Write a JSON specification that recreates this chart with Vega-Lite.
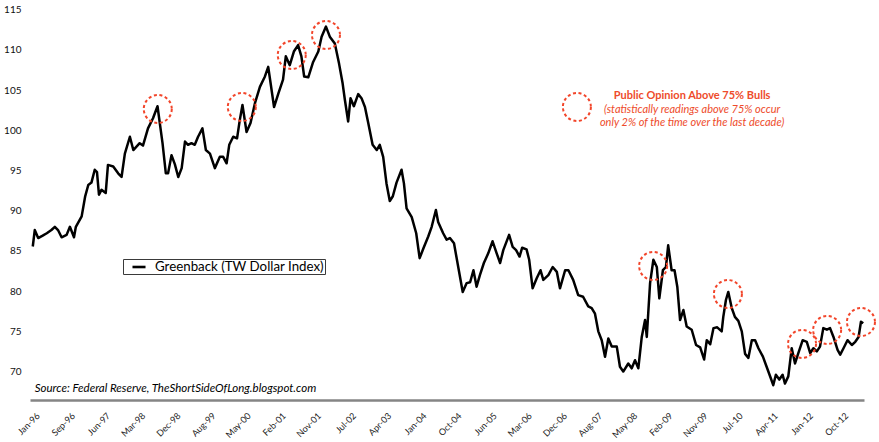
{
  "$schema": "https://vega.github.io/schema/vega-lite/v6.json",
  "width": 834,
  "height": 400,
  "autosize": {"type": "none"},
  "padding": {"left": 30, "top": 0, "right": 15, "bottom": 42},
  "background": "white",
  "config": {"view": {"stroke": null}, "font": "Lato", "axis": {"labelOverlap": false}},
  "datasets": {
    "dollar": [
      {"date":"1996-01-03","value":85.55},{"date":"1996-01-18","value":87.6},{"date":"1996-02-13","value":86.6},{"date":"1996-03-18","value":86.9},{"date":"1996-04-18","value":87.2},{"date":"1996-05-23","value":87.6},{"date":"1996-06-18","value":88.0},{"date":"1996-07-12","value":87.6},{"date":"1996-08-08","value":86.7},{"date":"1996-09-15","value":87.0},{"date":"1996-10-10","value":88.0},{"date":"1996-11-10","value":86.7},{"date":"1996-11-24","value":88.0},
      {"date":"1997-01-07","value":89.3},{"date":"1997-02-02","value":91.75},{"date":"1997-02-26","value":93.2},{"date":"1997-03-22","value":93.5},{"date":"1997-04-16","value":95.1},{"date":"1997-05-03","value":94.8},{"date":"1997-05-18","value":92.0},{"date":"1997-06-06","value":92.6},{"date":"1997-07-08","value":92.2},{"date":"1997-07-25","value":95.7},{"date":"1997-09-03","value":95.5},{"date":"1997-10-10","value":94.65},{"date":"1997-11-05","value":94.2},{"date":"1997-11-30","value":97.1},
      {"date":"1998-01-07","value":99.2},{"date":"1998-02-02","value":97.55},{"date":"1998-03-22","value":98.4},{"date":"1998-04-16","value":98.1},{"date":"1998-05-24","value":100.25},{"date":"1998-07-01","value":101.5},{"date":"1998-08-04","value":103.0},{"date":"1998-09-11","value":98.4},{"date":"1998-10-06","value":94.65},{"date":"1998-10-23","value":94.65},{"date":"1998-11-18","value":96.9},{"date":"1998-12-13","value":95.8},
      {"date":"1999-01-08","value":94.2},{"date":"1999-02-03","value":95.3},{"date":"1999-02-28","value":98.6},{"date":"1999-03-23","value":98.2},{"date":"1999-04-18","value":98.4},{"date":"1999-05-13","value":98.2},{"date":"1999-06-07","value":99.2},{"date":"1999-07-10","value":100.25},{"date":"1999-08-05","value":97.55},{"date":"1999-09-05","value":97.1},{"date":"1999-10-12","value":95.3},{"date":"1999-11-19","value":96.7},{"date":"1999-12-14","value":96.7},
      {"date":"2000-01-09","value":95.9},{"date":"2000-01-29","value":98.2},{"date":"2000-02-28","value":99.2},{"date":"2000-03-28","value":99.0},{"date":"2000-04-18","value":101.3},{"date":"2000-05-08","value":103.15},{"date":"2000-06-08","value":99.8},{"date":"2000-07-08","value":100.9},{"date":"2000-08-10","value":103.35},{"date":"2000-09-17","value":105.4},{"date":"2000-10-25","value":106.7},{"date":"2000-11-19","value":107.9},{"date":"2000-12-07","value":105.85},
      {"date":"2001-01-02","value":102.9},{"date":"2001-02-04","value":104.6},{"date":"2001-03-11","value":106.3},{"date":"2001-04-01","value":109.2},{"date":"2001-05-01","value":108.1},{"date":"2001-06-01","value":109.8},{"date":"2001-07-03","value":110.6},{"date":"2001-07-28","value":109.2},{"date":"2001-08-18","value":106.7},{"date":"2001-09-18","value":106.6},{"date":"2001-10-25","value":108.5},{"date":"2001-12-03","value":109.8},{"date":"2001-12-28","value":111.65},
      {"date":"2002-01-30","value":112.9},{"date":"2002-02-28","value":111.65},{"date":"2002-04-07","value":110.8},{"date":"2002-05-09","value":108.3},{"date":"2002-06-05","value":105.85},{"date":"2002-06-22","value":103.8},{"date":"2002-07-17","value":101.1},{"date":"2002-08-04","value":104.0},{"date":"2002-08-29","value":103.0},{"date":"2002-10-01","value":104.5},{"date":"2002-10-26","value":104.0},{"date":"2002-11-21","value":102.9},{"date":"2002-12-16","value":100.9},
      {"date":"2003-01-18","value":98.2},{"date":"2003-02-18","value":97.55},{"date":"2003-03-13","value":98.2},{"date":"2003-04-08","value":96.7},{"date":"2003-05-03","value":93.4},{"date":"2003-05-28","value":91.2},{"date":"2003-06-20","value":91.8},{"date":"2003-07-18","value":93.5},{"date":"2003-08-25","value":95.1},{"date":"2003-09-12","value":93.4},{"date":"2003-10-02","value":90.3},{"date":"2003-11-10","value":89.2},{"date":"2003-12-14","value":87.2},
      {"date":"2004-01-09","value":84.1},{"date":"2004-02-06","value":85.3},{"date":"2004-03-14","value":86.8},{"date":"2004-04-09","value":88.0},{"date":"2004-05-11","value":90.1},{"date":"2004-05-28","value":88.6},{"date":"2004-07-05","value":87.2},{"date":"2004-07-31","value":86.4},{"date":"2004-08-25","value":86.6},{"date":"2004-09-25","value":85.95},{"date":"2004-10-27","value":83.0},{"date":"2004-11-30","value":79.9},{"date":"2004-12-30","value":81.0},
      {"date":"2005-01-25","value":81.1},{"date":"2005-02-19","value":82.6},{"date":"2005-03-15","value":80.55},{"date":"2005-04-09","value":82.0},{"date":"2005-05-09","value":83.5},{"date":"2005-06-11","value":84.7},{"date":"2005-07-14","value":86.2},{"date":"2005-08-14","value":84.7},{"date":"2005-09-09","value":83.5},{"date":"2005-10-03","value":85.1},{"date":"2005-11-16","value":87.0},{"date":"2005-12-13","value":85.5},
      {"date":"2006-01-08","value":85.1},{"date":"2006-02-03","value":84.3},{"date":"2006-02-23","value":85.4},{"date":"2006-03-28","value":85.2},{"date":"2006-04-17","value":83.9},{"date":"2006-05-13","value":80.35},{"date":"2006-06-13","value":81.6},{"date":"2006-07-12","value":82.6},{"date":"2006-08-02","value":81.4},{"date":"2006-09-09","value":82.0},{"date":"2006-10-12","value":83.0},{"date":"2006-11-12","value":82.4},{"date":"2006-12-06","value":80.35},
      {"date":"2007-01-14","value":82.6},{"date":"2007-02-08","value":82.6},{"date":"2007-03-16","value":81.4},{"date":"2007-04-23","value":79.5},{"date":"2007-05-30","value":79.3},{"date":"2007-07-08","value":78.1},{"date":"2007-08-03","value":77.9},{"date":"2007-08-28","value":77.2},{"date":"2007-09-22","value":75.0},{"date":"2007-10-18","value":73.9},{"date":"2007-11-12","value":71.85},{"date":"2007-12-07","value":74.1},
      {"date":"2008-01-02","value":73.1},{"date":"2008-02-09","value":73.1},{"date":"2008-03-04","value":70.6},{"date":"2008-03-29","value":70.0},{"date":"2008-05-06","value":71.0},{"date":"2008-06-01","value":70.4},{"date":"2008-06-26","value":71.4},{"date":"2008-07-21","value":70.4},{"date":"2008-08-16","value":74.3},{"date":"2008-09-10","value":76.4},{"date":"2008-09-23","value":74.3},{"date":"2008-10-18","value":81.0},{"date":"2008-11-12","value":83.9},{"date":"2008-12-08","value":83.0},{"date":"2008-12-27","value":79.1},
      {"date":"2009-01-23","value":82.6},{"date":"2009-02-15","value":83.0},{"date":"2009-03-04","value":85.7},{"date":"2009-03-30","value":82.6},{"date":"2009-04-21","value":82.6},{"date":"2009-05-12","value":80.55},{"date":"2009-06-02","value":76.4},{"date":"2009-06-27","value":77.65},{"date":"2009-07-22","value":75.6},{"date":"2009-08-29","value":75.2},{"date":"2009-10-01","value":73.3},{"date":"2009-11-01","value":73.0},{"date":"2009-12-01","value":71.5},{"date":"2009-12-21","value":73.9},
      {"date":"2010-01-16","value":73.4},{"date":"2010-02-10","value":75.4},{"date":"2010-03-10","value":75.5},{"date":"2010-04-13","value":75.0},{"date":"2010-04-25","value":76.8},{"date":"2010-05-15","value":78.9},{"date":"2010-06-02","value":79.9},{"date":"2010-06-28","value":77.9},{"date":"2010-07-22","value":76.8},{"date":"2010-08-17","value":76.3},{"date":"2010-09-12","value":75.0},{"date":"2010-10-07","value":72.2},{"date":"2010-11-01","value":71.7},{"date":"2010-11-27","value":73.9},{"date":"2010-12-22","value":73.9},
      {"date":"2011-01-16","value":72.9},{"date":"2011-02-19","value":71.85},{"date":"2011-03-19","value":70.6},{"date":"2011-04-19","value":69.2},{"date":"2011-05-08","value":68.3},{"date":"2011-05-28","value":69.6},{"date":"2011-06-23","value":69.0},{"date":"2011-07-18","value":69.6},{"date":"2011-08-05","value":68.5},{"date":"2011-08-30","value":69.4},{"date":"2011-09-25","value":72.9},{"date":"2011-10-20","value":71.0},{"date":"2011-11-14","value":72.3},{"date":"2011-12-17","value":73.9},
      {"date":"2012-01-17","value":73.7},{"date":"2012-02-12","value":72.3},{"date":"2012-03-07","value":72.9},{"date":"2012-04-02","value":72.5},{"date":"2012-04-26","value":73.1},{"date":"2012-05-21","value":75.4},{"date":"2012-06-17","value":75.2},{"date":"2012-07-11","value":75.4},{"date":"2012-08-06","value":74.3},{"date":"2012-09-06","value":72.7},{"date":"2012-09-26","value":72.1},{"date":"2012-10-21","value":72.9},{"date":"2012-11-20","value":73.9},{"date":"2012-12-23","value":73.3},
      {"date":"2013-01-18","value":73.7},{"date":"2013-02-12","value":74.3},{"date":"2013-03-02","value":76.2},{"date":"2013-03-19","value":76.0}
    ],
    "circles": [
      {"date":"1998-08-06","value":102.65},{"date":"2000-05-03","value":102.9},{"date":"2001-05-16","value":109.37},{"date":"2002-01-30","value":111.86},{"date":"2008-11-10","value":83.13},{"date":"2010-05-30","value":79.64},{"date":"2011-12-12","value":73.43},{"date":"2012-06-19","value":75.17},{"date":"2013-03-02","value":76.16},{"date":"2007-04-13","value":102.9}
    ]
  },
  "layer": [
    {
      "data": {"name": "dollar"},
      "mark": {"type": "line", "strokeWidth": 2.5, "strokeJoin": "round"},
      "encoding": {
        "x": {
          "field": "date", "type": "temporal",
          "scale": {"type": "utc", "domain": [{"year":1995,"month":12,"date":13,"utc":true},{"year":2013,"month":3,"date":25,"utc":true}]},
          "axis": {
            "title": null, "grid": false, "ticks": false, "tickCount": 60,
            "domain": true, "domainColor": "#858585", "domainWidth": 2.5,
            "labelAngle": -45, "labelFontSize": 9, "labelColor": "#222222",
            "labelPadding": 11, "labelOffset": 2,
            "labelOverlap": false, "labelFlush": false, "labelBound": false, "format": "%b-%y",
            "values": [
              {"year":1996,"month":1,"date":5,"utc":true},{"year":1996,"month":9,"date":27,"utc":true},{"year":1997,"month":6,"date":20,"utc":true},{"year":1998,"month":3,"date":13,"utc":true},{"year":1998,"month":12,"date":4,"utc":true},{"year":1999,"month":8,"date":27,"utc":true},{"year":2000,"month":5,"date":19,"utc":true},{"year":2001,"month":2,"date":9,"utc":true},{"year":2001,"month":11,"date":2,"utc":true},{"year":2002,"month":7,"date":26,"utc":true},{"year":2003,"month":4,"date":18,"utc":true},{"year":2004,"month":1,"date":9,"utc":true},{"year":2004,"month":10,"date":1,"utc":true},{"year":2005,"month":6,"date":24,"utc":true},{"year":2006,"month":3,"date":17,"utc":true},{"year":2006,"month":12,"date":8,"utc":true},{"year":2007,"month":8,"date":31,"utc":true},{"year":2008,"month":5,"date":23,"utc":true},{"year":2009,"month":2,"date":13,"utc":true},{"year":2009,"month":11,"date":6,"utc":true},{"year":2010,"month":7,"date":30,"utc":true},{"year":2011,"month":4,"date":22,"utc":true},{"year":2012,"month":1,"date":13,"utc":true},{"year":2012,"month":10,"date":5,"utc":true}
            ]
          }
        },
        "y": {
          "field": "value", "type": "quantitative",
          "scale": {"domain": [66.46, 116.21], "nice": false, "zero": false},
          "axis": {"title": null, "grid": false, "ticks": false, "domain": false, "labelPadding": 9, "labelFontSize": 10, "labelColor": "#111111", "values": [70,75,80,85,90,95,100,105,110,115]}
        },
        "color": {
          "datum": "Greenback (TW Dollar Index)",
          "scale": {"range": ["#000000"]},
          "legend": {"orient": "none", "legendX": 93, "legendY": 259, "title": null, "strokeColor": "#3a3a3a", "padding": 0, "symbolType": "stroke", "symbolStrokeWidth": 2.6, "symbolSize": 170, "labelFontSize": 13.3, "labelColor": "#000000", "labelLimit": 400, "labelOffset": 8, "symbolOffset": 8}
        }
      }
    },
    {
      "data": {"name": "circles"},
      "mark": {"type": "point", "shape": "circle", "size": 784, "filled": false, "stroke": "#f2452a", "strokeWidth": 2, "strokeDash": [3, 2.6], "opacity": 1},
      "encoding": {
        "x": {"field": "date", "type": "temporal"},
        "y": {"field": "value", "type": "quantitative"}
      }
    },
    {
      "data": {"values": [{"date":"2009-09-01","value":104.27,"label":"Public Opinion Above 75% Bulls"}]},
      "mark": {"type": "text", "fontWeight": "bold", "fontSize": 11, "color": "#ee4b2b", "align": "center", "baseline": "middle"},
      "encoding": {
        "x": {"field": "date", "type": "temporal"},
        "y": {"field": "value", "type": "quantitative"},
        "text": {"field": "label"}
      }
    },
    {
      "data": {"values": [{"date":"2009-09-01","value":102.53,"label":"(statistically readings above 75% occur"},{"date":"2009-09-01","value":100.91,"label":"only 2% of the time over the last decade)"}]},
      "mark": {"type": "text", "fontStyle": "italic", "fontSize": 11, "color": "#ee4b2b", "align": "center", "baseline": "middle"},
      "encoding": {
        "x": {"field": "date", "type": "temporal"},
        "y": {"field": "value", "type": "quantitative"},
        "text": {"field": "label"}
      }
    },
    {
      "data": {"values": [{"date":"1996-01-18","value":67.87,"label":"Source: Federal Reserve, TheShortSideOfLong.blogspot.com"}]},
      "mark": {"type": "text", "fontStyle": "italic", "fontSize": 11.5, "color": "#000000", "align": "left", "baseline": "middle"},
      "encoding": {
        "x": {"field": "date", "type": "temporal"},
        "y": {"field": "value", "type": "quantitative"},
        "text": {"field": "label"}
      }
    }
  ]
}
